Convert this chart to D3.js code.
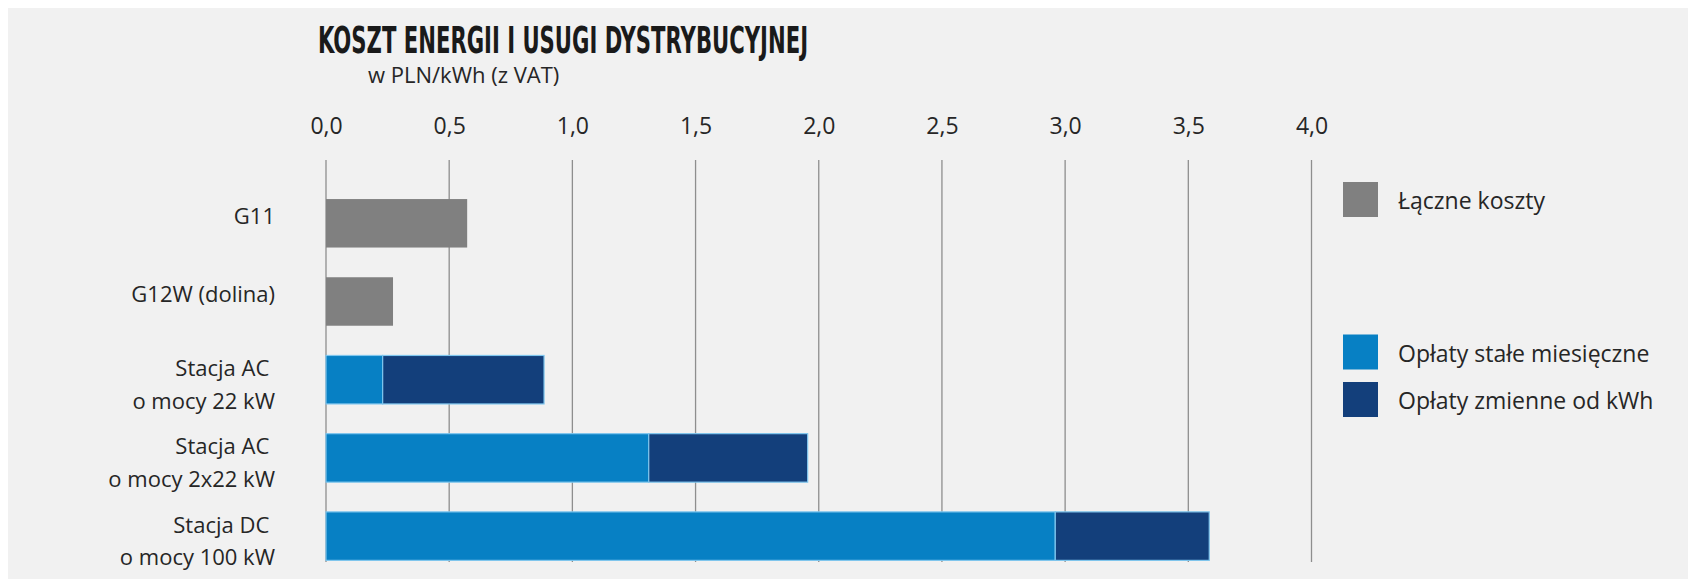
<!DOCTYPE html>
<html>
<head>
<meta charset="utf-8">
<script src="https://cdn.jsdelivr.net/npm/d3@7"></script>
<style>
  html, body { margin: 0; padding: 0; background: #ffffff; }
  svg { display: block; }
</style>
</head>
<body>
<div id="chart"></div>
<script>
// ---- data ----
const categories = ["G11", "G12W (dolina)", "Stacja AC|o mocy 22 kW", "Stacja AC|o mocy 2x22 kW", "Stacja DC|o mocy 100 kW"];
const totalCosts = [0.573, 0.272, null, null, null];           // Łączne koszty
const fixedMonthly = [null, null, 0.23, 1.31, 2.96];            // Opłaty stałe miesięczne
const variablePerKwh = [null, null, 0.655, 0.645, 0.625];       // Opłaty zmienne od kWh
const tickValues = [0, 0.5, 1, 1.5, 2, 2.5, 3, 3.5, 4];
const legendLabels = ["Łączne koszty", "Opłaty stałe miesięczne", "Opłaty zmienne od kWh"];
const titleText = "KOSZT ENERGII I USUGI DYSTRYBUCYJNEJ";
const subtitleText = "w PLN/kWh (z VAT)";

const W = 1688, H = 579;
const colors = { gray: "#808080", light: "#0780c4", dark: "#133f7b" };
const textColor = "#262626";

const svg = d3.select("#chart").append("svg").attr("width", W).attr("height", H);
svg.append("rect").attr("x", 8).attr("y", 8).attr("width", W - 8).attr("height", H - 8).attr("fill", "#f1f1f1");

const x = d3.scaleLinear().domain([0, 4]).range([326, 1311.5]);
const y = d3.scaleBand().domain(categories).range([183.4, 576]).paddingInner(0.38).paddingOuter(0.2);

const fmt = d => d3.format(".1f")(d).replace(".", ",");

// gridlines
svg.append("g").selectAll("line").data(tickValues).join("line")
  .attr("x1", d => x(d)).attr("x2", d => x(d))
  .attr("y1", 160).attr("y2", 562)
  .attr("stroke", "#8e8e8e").attr("stroke-width", 1.3);

// tick labels (top axis)
const axis = d3.axisTop(x).tickValues(tickValues).tickFormat(fmt).tickSize(0).tickPadding(0);
const gAxis = svg.append("g").attr("transform", "translate(0,134)").call(axis);
gAxis.select(".domain").remove();
gAxis.selectAll("text")
  .attr("font-family", "'Open Sans', sans-serif")
  .attr("font-size", 23)
  .attr("fill", textColor)
  .attr("dy", 0);

// bars: total
const rows = categories.map((c, i) => ({ c, total: totalCosts[i], fixed: fixedMonthly[i], variable: variablePerKwh[i] }));

svg.append("g").selectAll("rect").data(rows.filter(r => r.total != null)).join("rect")
  .attr("x", x(0)).attr("y", d => y(d.c))
  .attr("width", d => x(d.total) - x(0)).attr("height", y.bandwidth())
  .attr("fill", colors.gray);

svg.append("g").selectAll("rect").data(rows.filter(r => r.fixed != null)).join("rect")
  .attr("x", x(0)).attr("y", d => y(d.c))
  .attr("width", d => x(d.fixed) - x(0)).attr("height", y.bandwidth())
  .attr("fill", colors.light).attr("stroke", "#7fc6ee").attr("stroke-width", 1.2);

svg.append("g").selectAll("rect").data(rows.filter(r => r.variable != null)).join("rect")
  .attr("x", d => x(d.fixed)).attr("y", d => y(d.c))
  .attr("width", d => x(d.fixed + d.variable) - x(d.fixed)).attr("height", y.bandwidth())
  .attr("fill", colors.dark).attr("stroke", "#7fc6ee").attr("stroke-width", 1.2);

// category labels
const labG = svg.append("g")
  .attr("font-family", "'Open Sans', sans-serif")
  .attr("font-size", 22).attr("fill", textColor).attr("text-anchor", "end");
rows.forEach(r => {
  const lines = r.c.split("|");
  const cy = y(r.c) + y.bandwidth() / 2;
  if (lines.length === 1) {
    labG.append("text").attr("x", 275).attr("y", cy + 1).text(lines[0]);
  } else {
    labG.append("text").attr("x", 275).attr("y", cy - 3.5).text(lines[0] + "\u00a0");
    labG.append("text").attr("x", 275).attr("y", cy + 29).text(lines[1]);
  }
});

// legend
const legendTops = [182, 334.5, 382];
const legendColors = [colors.gray, colors.light, colors.dark];
const lg = svg.append("g");
legendLabels.forEach((t, i) => {
  lg.append("rect").attr("x", 1343).attr("y", legendTops[i]).attr("width", 35).attr("height", 35)
    .attr("fill", legendColors[i]);
  lg.append("text").attr("x", 1398).attr("y", legendTops[i] + 27)
    .attr("font-family", "'Open Sans', sans-serif").attr("font-size", 23).attr("fill", textColor)
    .text(t);
});

// title
svg.append("text").attr("x", 318).attr("y", 53)
  .attr("font-family", "'Liberation Sans Narrow', 'DejaVu Sans Condensed', sans-serif")
  .attr("font-weight", "bold").attr("font-size", 38).attr("fill", "#1a1a1a")
  .attr("textLength", 490).attr("lengthAdjust", "spacingAndGlyphs")
  .text(titleText);
svg.append("text").attr("x", 368).attr("y", 83)
  .attr("font-family", "'Open Sans', sans-serif").attr("font-size", 22).attr("fill", textColor)
  .text(subtitleText);
</script>
</body>
</html>
